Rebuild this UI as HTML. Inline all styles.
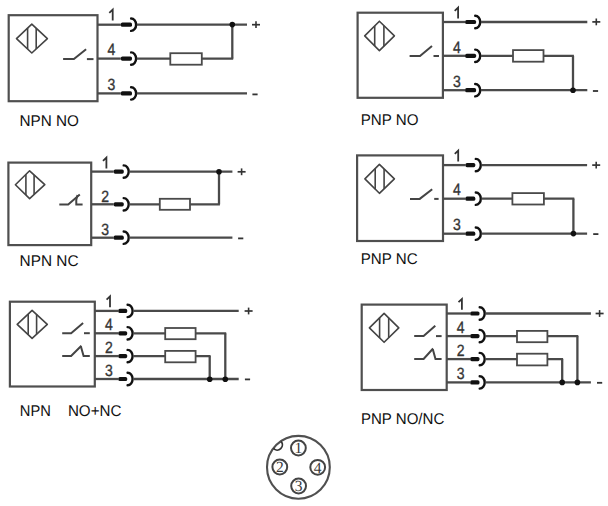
<!DOCTYPE html>
<html><head><meta charset="utf-8"><style>
html,body{margin:0;padding:0;background:#fff;width:608px;height:506px;overflow:hidden}
svg{display:block}
</style></head><body>
<svg width="608" height="506" viewBox="0 0 608 506">
<rect width="608" height="506" fill="#fff"/>
<g>
<rect x="8.7" y="15.2" width="88.8" height="86.0" fill="none" stroke="#4f4f4f" stroke-width="2.2"/>
<polygon points="31.8,24.1 47.4,38.55 31.8,53.0 16.5,38.55" fill="none" stroke="#444" stroke-width="1.6" stroke-linejoin="round"/>
<line x1="27.6" y1="28.02815533980582" x2="27.6" y2="49.071844660194174" stroke="#444" stroke-width="1.6" stroke-linecap="butt"/>
<line x1="36.2" y1="28.215210355987054" x2="36.2" y2="48.88478964401294" stroke="#444" stroke-width="1.6" stroke-linecap="butt"/>
<polyline points="63.1,59.1 73.9,59.1 86.1,49.3" fill="none" stroke="#444" stroke-width="2" stroke-linecap="butt" stroke-linejoin="miter"/>
<line x1="86.9" y1="59.1" x2="93.5" y2="59.1" stroke="#444" stroke-width="2" stroke-linecap="butt"/>
<line x1="97.5" y1="24.7" x2="120.8" y2="24.7" stroke="#4a4a4a" stroke-width="2.3" stroke-linecap="butt"/>
<rect x="120.8" y="22.599999999999998" width="11.20" height="4.2" rx="1.6" fill="#111"/>
<path d="M131.10,18.50 A5.0,6.2 0 0 1 131.10,30.90" fill="none" stroke="#111" stroke-width="2.4" stroke-linecap="round"/>
<line x1="136.8" y1="24.7" x2="247" y2="24.7" stroke="#4a4a4a" stroke-width="2.3" stroke-linecap="butt"/>
<path d="M112.70,20.50 L112.70,9.70 L109.30,12.90" fill="none" stroke="#333" stroke-width="1.8" stroke-linejoin="miter"/>
<line x1="97.5" y1="58.6" x2="120.8" y2="58.6" stroke="#4a4a4a" stroke-width="2.3" stroke-linecap="butt"/>
<rect x="120.8" y="56.5" width="11.20" height="4.2" rx="1.6" fill="#111"/>
<path d="M131.10,52.40 A5.0,6.2 0 0 1 131.10,64.80" fill="none" stroke="#111" stroke-width="2.4" stroke-linecap="round"/>
<line x1="136.8" y1="58.6" x2="233.2" y2="58.6" stroke="#4a4a4a" stroke-width="2.3" stroke-linecap="butt"/>
<text text-rendering="geometricPrecision" transform="translate(111.5,54.7) scale(0.86,1)" font-family="&quot;Liberation Sans&quot;, sans-serif" font-size="16.3" fill="#333" stroke="#333" stroke-width="0.35" text-anchor="middle">4</text>
<line x1="97.5" y1="93.4" x2="120.8" y2="93.4" stroke="#4a4a4a" stroke-width="2.3" stroke-linecap="butt"/>
<rect x="120.8" y="91.30000000000001" width="11.20" height="4.2" rx="1.6" fill="#111"/>
<path d="M131.10,87.20 A5.0,6.2 0 0 1 131.10,99.60" fill="none" stroke="#111" stroke-width="2.4" stroke-linecap="round"/>
<line x1="136.8" y1="93.4" x2="247" y2="93.4" stroke="#4a4a4a" stroke-width="2.3" stroke-linecap="butt"/>
<text text-rendering="geometricPrecision" transform="translate(111.5,89.5) scale(0.86,1)" font-family="&quot;Liberation Sans&quot;, sans-serif" font-size="16.3" fill="#333" stroke="#333" stroke-width="0.35" text-anchor="middle">3</text>
<rect x="170.3" y="53.2" width="31.5" height="11.5" fill="#fff" stroke="#4a4a4a" stroke-width="1.8"/>
<line x1="232.3" y1="24.6" x2="232.3" y2="58.6" stroke="#4a4a4a" stroke-width="2.3" stroke-linecap="butt"/>
<circle cx="232.3" cy="24.6" r="2.8" fill="#111"/>
<line x1="252" y1="24.7" x2="260" y2="24.7" stroke="#333" stroke-width="1.7" stroke-linecap="butt"/>
<line x1="256" y1="21.3" x2="256" y2="28.099999999999998" stroke="#333" stroke-width="1.6" stroke-linecap="butt"/>
<line x1="252.4" y1="94.4" x2="257.6" y2="94.4" stroke="#333" stroke-width="1.8" stroke-linecap="butt"/>
<text text-rendering="geometricPrecision" x="19.6" y="125.5" font-family="&quot;Liberation Sans&quot;, sans-serif" font-size="15.5" fill="#111" text-anchor="start" textLength="59.4" lengthAdjust="spacingAndGlyphs">NPN NO</text>
<rect x="357.6" y="12.7" width="85.29999999999995" height="85.1" fill="none" stroke="#4f4f4f" stroke-width="2.2"/>
<polygon points="379.4,21.200000000000003 394.4,35.900000000000006 379.4,50.6 364.70000000000005,35.900000000000006" fill="none" stroke="#444" stroke-width="1.6" stroke-linejoin="round"/>
<line x1="374.7" y1="25.852525252525258" x2="374.7" y2="45.94747474747476" stroke="#444" stroke-width="1.6" stroke-linecap="butt"/>
<line x1="383.9" y1="25.65454545454547" x2="383.9" y2="46.14545454545454" stroke="#444" stroke-width="1.6" stroke-linecap="butt"/>
<polyline points="409.6,56.0 420,56.0 432,46" fill="none" stroke="#444" stroke-width="2" stroke-linecap="butt" stroke-linejoin="miter"/>
<line x1="433.5" y1="56.0" x2="439" y2="56.0" stroke="#444" stroke-width="2" stroke-linecap="butt"/>
<line x1="442.9" y1="22.0" x2="465.1" y2="22.0" stroke="#4a4a4a" stroke-width="2.3" stroke-linecap="butt"/>
<rect x="465.1" y="19.9" width="11.00" height="4.2" rx="1.6" fill="#111"/>
<path d="M475.20,15.80 A5.0,6.2 0 0 1 475.20,28.20" fill="none" stroke="#111" stroke-width="2.4" stroke-linecap="round"/>
<line x1="480.9" y1="22.0" x2="587.3" y2="22.0" stroke="#4a4a4a" stroke-width="2.3" stroke-linecap="butt"/>
<path d="M458.10,18.50 L458.10,7.70 L454.70,10.90" fill="none" stroke="#333" stroke-width="1.8" stroke-linejoin="miter"/>
<line x1="442.9" y1="55.8" x2="465.1" y2="55.8" stroke="#4a4a4a" stroke-width="2.3" stroke-linecap="butt"/>
<rect x="465.1" y="53.699999999999996" width="11.00" height="4.2" rx="1.6" fill="#111"/>
<path d="M475.20,49.60 A5.0,6.2 0 0 1 475.20,62.00" fill="none" stroke="#111" stroke-width="2.4" stroke-linecap="round"/>
<line x1="480.9" y1="55.8" x2="573.9" y2="55.8" stroke="#4a4a4a" stroke-width="2.3" stroke-linecap="butt"/>
<text text-rendering="geometricPrecision" transform="translate(456.9,52.599999999999994) scale(0.86,1)" font-family="&quot;Liberation Sans&quot;, sans-serif" font-size="16.3" fill="#333" stroke="#333" stroke-width="0.35" text-anchor="middle">4</text>
<line x1="442.9" y1="90.2" x2="465.1" y2="90.2" stroke="#4a4a4a" stroke-width="2.3" stroke-linecap="butt"/>
<rect x="465.1" y="88.10000000000001" width="11.00" height="4.2" rx="1.6" fill="#111"/>
<path d="M475.20,84.00 A5.0,6.2 0 0 1 475.20,96.40" fill="none" stroke="#111" stroke-width="2.4" stroke-linecap="round"/>
<line x1="480.9" y1="90.2" x2="587.3" y2="90.2" stroke="#4a4a4a" stroke-width="2.3" stroke-linecap="butt"/>
<text text-rendering="geometricPrecision" transform="translate(456.9,87.0) scale(0.86,1)" font-family="&quot;Liberation Sans&quot;, sans-serif" font-size="16.3" fill="#333" stroke="#333" stroke-width="0.35" text-anchor="middle">3</text>
<rect x="513" y="50.1" width="30.5" height="11.600000000000001" fill="#fff" stroke="#4a4a4a" stroke-width="1.8"/>
<line x1="573" y1="55.8" x2="573" y2="90.2" stroke="#4a4a4a" stroke-width="2.3" stroke-linecap="butt"/>
<circle cx="573" cy="90.3" r="2.8" fill="#111"/>
<line x1="592.3" y1="21.9" x2="600.3" y2="21.9" stroke="#333" stroke-width="1.7" stroke-linecap="butt"/>
<line x1="596.3" y1="18.5" x2="596.3" y2="25.299999999999997" stroke="#333" stroke-width="1.6" stroke-linecap="butt"/>
<line x1="592.9" y1="91.0" x2="598.1" y2="91.0" stroke="#333" stroke-width="1.8" stroke-linecap="butt"/>
<text text-rendering="geometricPrecision" x="360.70000000000005" y="124.5" font-family="&quot;Liberation Sans&quot;, sans-serif" font-size="15.5" fill="#111" text-anchor="start" textLength="57.800000000000004" lengthAdjust="spacingAndGlyphs">PNP NO</text>
<rect x="8.4" y="162.6" width="82.8" height="82.5" fill="none" stroke="#4f4f4f" stroke-width="2.2"/>
<polygon points="29.6,170.79999999999998 44.8,184.7 29.6,198.6 15.4,184.7" fill="none" stroke="#444" stroke-width="1.6" stroke-linejoin="round"/>
<line x1="25.9" y1="174.2986394557823" x2="25.9" y2="195.10136054421767" stroke="#444" stroke-width="1.6" stroke-linecap="butt"/>
<line x1="34.1" y1="175.0551020408163" x2="34.1" y2="194.34489795918367" stroke="#444" stroke-width="1.6" stroke-linecap="butt"/>
<polyline points="59.3,204.5 68.2,204.5 79.8,194.5" fill="none" stroke="#444" stroke-width="2" stroke-linecap="butt" stroke-linejoin="miter"/>
<path d="M77.5,195.0 Q75.7,200.05 76.3,204.5 L82.6,204.5" fill="none" stroke="#444" stroke-width="2"/>
<line x1="91.2" y1="171.6" x2="113.6" y2="171.6" stroke="#4a4a4a" stroke-width="2.3" stroke-linecap="butt"/>
<rect x="113.6" y="169.5" width="10.20" height="4.2" rx="1.6" fill="#111"/>
<path d="M123.70,165.40 A5.0,6.2 0 0 1 123.70,177.80" fill="none" stroke="#111" stroke-width="2.4" stroke-linecap="round"/>
<line x1="129.4" y1="171.6" x2="232.4" y2="171.6" stroke="#4a4a4a" stroke-width="2.3" stroke-linecap="butt"/>
<path d="M106.40,168.50 L106.40,157.70 L103.00,160.90" fill="none" stroke="#333" stroke-width="1.8" stroke-linejoin="miter"/>
<line x1="91.2" y1="204.3" x2="113.6" y2="204.3" stroke="#4a4a4a" stroke-width="2.3" stroke-linecap="butt"/>
<rect x="113.6" y="202.20000000000002" width="10.20" height="4.2" rx="1.6" fill="#111"/>
<path d="M123.70,198.10 A5.0,6.2 0 0 1 123.70,210.50" fill="none" stroke="#111" stroke-width="2.4" stroke-linecap="round"/>
<line x1="129.4" y1="204.3" x2="219.9" y2="204.3" stroke="#4a4a4a" stroke-width="2.3" stroke-linecap="butt"/>
<text text-rendering="geometricPrecision" transform="translate(105.2,201.5) scale(0.86,1)" font-family="&quot;Liberation Sans&quot;, sans-serif" font-size="16.3" fill="#333" stroke="#333" stroke-width="0.35" text-anchor="middle">2</text>
<line x1="91.2" y1="237.7" x2="113.6" y2="237.7" stroke="#4a4a4a" stroke-width="2.3" stroke-linecap="butt"/>
<rect x="113.6" y="235.6" width="10.20" height="4.2" rx="1.6" fill="#111"/>
<path d="M123.70,231.50 A5.0,6.2 0 0 1 123.70,243.90" fill="none" stroke="#111" stroke-width="2.4" stroke-linecap="round"/>
<line x1="129.4" y1="237.7" x2="232.4" y2="237.7" stroke="#4a4a4a" stroke-width="2.3" stroke-linecap="butt"/>
<text text-rendering="geometricPrecision" transform="translate(105.2,234.89999999999998) scale(0.86,1)" font-family="&quot;Liberation Sans&quot;, sans-serif" font-size="16.3" fill="#333" stroke="#333" stroke-width="0.35" text-anchor="middle">3</text>
<rect x="159.8" y="198.8" width="30.19999999999999" height="11.0" fill="#fff" stroke="#4a4a4a" stroke-width="1.8"/>
<line x1="219" y1="171.7" x2="219" y2="204.3" stroke="#4a4a4a" stroke-width="2.3" stroke-linecap="butt"/>
<circle cx="219" cy="171.7" r="2.8" fill="#111"/>
<line x1="237.6" y1="171.8" x2="245.6" y2="171.8" stroke="#333" stroke-width="1.7" stroke-linecap="butt"/>
<line x1="241.6" y1="168.4" x2="241.6" y2="175.20000000000002" stroke="#333" stroke-width="1.6" stroke-linecap="butt"/>
<line x1="238.1" y1="238.4" x2="243.29999999999998" y2="238.4" stroke="#333" stroke-width="1.8" stroke-linecap="butt"/>
<text text-rendering="geometricPrecision" x="19.6" y="265.5" font-family="&quot;Liberation Sans&quot;, sans-serif" font-size="15.5" fill="#111" text-anchor="start" textLength="58.9" lengthAdjust="spacingAndGlyphs">NPN NC</text>
<rect x="357.1" y="155.4" width="85.89999999999998" height="85.6" fill="none" stroke="#4f4f4f" stroke-width="2.2"/>
<polygon points="379.4,164.4 394.4,178.85000000000002 379.4,193.3 364.90000000000003,178.85000000000002" fill="none" stroke="#444" stroke-width="1.6" stroke-linejoin="round"/>
<line x1="375.2" y1="168.51457627118646" x2="375.2" y2="189.1854237288136" stroke="#444" stroke-width="1.6" stroke-linecap="butt"/>
<line x1="384.1" y1="169.00440677966108" x2="384.1" y2="188.69559322033896" stroke="#444" stroke-width="1.6" stroke-linecap="butt"/>
<polyline points="410,198.9 419.7,198.9 432.2,189.2" fill="none" stroke="#444" stroke-width="2" stroke-linecap="butt" stroke-linejoin="miter"/>
<line x1="434.2" y1="198.9" x2="438.6" y2="198.9" stroke="#444" stroke-width="2" stroke-linecap="butt"/>
<line x1="443" y1="165.1" x2="465.4" y2="165.1" stroke="#4a4a4a" stroke-width="2.3" stroke-linecap="butt"/>
<rect x="465.4" y="163.0" width="9.90" height="4.2" rx="1.6" fill="#111"/>
<path d="M475.80,158.90 A5.0,6.2 0 0 1 475.80,171.30" fill="none" stroke="#111" stroke-width="2.4" stroke-linecap="round"/>
<line x1="481.5" y1="165.1" x2="587.1" y2="165.1" stroke="#4a4a4a" stroke-width="2.3" stroke-linecap="butt"/>
<path d="M458.20,161.40 L458.20,150.60 L454.80,153.80" fill="none" stroke="#333" stroke-width="1.8" stroke-linejoin="miter"/>
<line x1="443" y1="198.7" x2="465.4" y2="198.7" stroke="#4a4a4a" stroke-width="2.3" stroke-linecap="butt"/>
<rect x="465.4" y="196.6" width="9.90" height="4.2" rx="1.6" fill="#111"/>
<path d="M475.80,192.50 A5.0,6.2 0 0 1 475.80,204.90" fill="none" stroke="#111" stroke-width="2.4" stroke-linecap="round"/>
<line x1="481.5" y1="198.7" x2="574.3" y2="198.7" stroke="#4a4a4a" stroke-width="2.3" stroke-linecap="butt"/>
<text text-rendering="geometricPrecision" transform="translate(457,195.29999999999998) scale(0.86,1)" font-family="&quot;Liberation Sans&quot;, sans-serif" font-size="16.3" fill="#333" stroke="#333" stroke-width="0.35" text-anchor="middle">4</text>
<line x1="443" y1="233.7" x2="465.4" y2="233.7" stroke="#4a4a4a" stroke-width="2.3" stroke-linecap="butt"/>
<rect x="465.4" y="231.6" width="9.90" height="4.2" rx="1.6" fill="#111"/>
<path d="M475.80,227.50 A5.0,6.2 0 0 1 475.80,239.90" fill="none" stroke="#111" stroke-width="2.4" stroke-linecap="round"/>
<line x1="481.5" y1="233.7" x2="587.1" y2="233.7" stroke="#4a4a4a" stroke-width="2.3" stroke-linecap="butt"/>
<text text-rendering="geometricPrecision" transform="translate(457,230.29999999999998) scale(0.86,1)" font-family="&quot;Liberation Sans&quot;, sans-serif" font-size="16.3" fill="#333" stroke="#333" stroke-width="0.35" text-anchor="middle">3</text>
<rect x="512.4" y="193.1" width="31.5" height="11.400000000000006" fill="#fff" stroke="#4a4a4a" stroke-width="1.8"/>
<line x1="573.4" y1="198.6" x2="573.4" y2="233.6" stroke="#4a4a4a" stroke-width="2.3" stroke-linecap="butt"/>
<circle cx="573.4" cy="233.6" r="2.8" fill="#111"/>
<line x1="592.2" y1="165.1" x2="600.2" y2="165.1" stroke="#333" stroke-width="1.7" stroke-linecap="butt"/>
<line x1="596.2" y1="161.7" x2="596.2" y2="168.5" stroke="#333" stroke-width="1.6" stroke-linecap="butt"/>
<line x1="593.1999999999999" y1="234.1" x2="598.4" y2="234.1" stroke="#333" stroke-width="1.8" stroke-linecap="butt"/>
<text text-rendering="geometricPrecision" x="360.70000000000005" y="263.5" font-family="&quot;Liberation Sans&quot;, sans-serif" font-size="15.5" fill="#111" text-anchor="start" textLength="56.9" lengthAdjust="spacingAndGlyphs">PNP NC</text>
<rect x="9.9" y="301.7" width="84.89999999999999" height="84.80000000000001" fill="none" stroke="#4f4f4f" stroke-width="2.2"/>
<polygon points="32.1,310.40000000000003 47.3,324.35 32.1,338.29999999999995 17.200000000000003,324.35" fill="none" stroke="#444" stroke-width="1.6" stroke-linejoin="round"/>
<line x1="28.2" y1="314.014950166113" x2="28.2" y2="334.68504983388704" stroke="#444" stroke-width="1.6" stroke-linecap="butt"/>
<line x1="36.6" y1="314.571096345515" x2="36.6" y2="334.12890365448504" stroke="#444" stroke-width="1.6" stroke-linecap="butt"/>
<polyline points="62.2,333.2 71.1,333.2 83.1,323.1" fill="none" stroke="#444" stroke-width="2" stroke-linecap="butt" stroke-linejoin="miter"/>
<line x1="84" y1="333.2" x2="89.8" y2="333.2" stroke="#444" stroke-width="2" stroke-linecap="butt"/>
<polyline points="62.2,356.0 71.1,356.0 81.4,345.8" fill="none" stroke="#444" stroke-width="2" stroke-linecap="butt" stroke-linejoin="miter"/>
<polyline points="80.9,346.5 83.6,356.0 89.8,356.0" fill="none" stroke="#444" stroke-width="2" stroke-linecap="butt" stroke-linejoin="miter"/>
<line x1="94.8" y1="310.9" x2="118.3" y2="310.9" stroke="#4a4a4a" stroke-width="2.3" stroke-linecap="butt"/>
<rect x="118.3" y="308.79999999999995" width="8.90" height="4.2" rx="1.6" fill="#111"/>
<path d="M127.60,304.70 A5.0,6.2 0 0 1 127.60,317.10" fill="none" stroke="#111" stroke-width="2.4" stroke-linecap="round"/>
<line x1="133.3" y1="310.9" x2="238.7" y2="310.9" stroke="#4a4a4a" stroke-width="2.3" stroke-linecap="butt"/>
<path d="M110.00,307.20 L110.00,296.40 L106.60,299.60" fill="none" stroke="#333" stroke-width="1.8" stroke-linejoin="miter"/>
<line x1="94.8" y1="333.3" x2="118.3" y2="333.3" stroke="#4a4a4a" stroke-width="2.3" stroke-linecap="butt"/>
<rect x="118.3" y="331.2" width="8.90" height="4.2" rx="1.6" fill="#111"/>
<path d="M127.60,327.10 A5.0,6.2 0 0 1 127.60,339.50" fill="none" stroke="#111" stroke-width="2.4" stroke-linecap="round"/>
<line x1="133.3" y1="333.3" x2="226.2" y2="333.3" stroke="#4a4a4a" stroke-width="2.3" stroke-linecap="butt"/>
<text text-rendering="geometricPrecision" transform="translate(108.8,329.90000000000003) scale(0.86,1)" font-family="&quot;Liberation Sans&quot;, sans-serif" font-size="16.3" fill="#333" stroke="#333" stroke-width="0.35" text-anchor="middle">4</text>
<line x1="94.8" y1="356.1" x2="118.3" y2="356.1" stroke="#4a4a4a" stroke-width="2.3" stroke-linecap="butt"/>
<rect x="118.3" y="354.0" width="8.90" height="4.2" rx="1.6" fill="#111"/>
<path d="M127.60,349.90 A5.0,6.2 0 0 1 127.60,362.30" fill="none" stroke="#111" stroke-width="2.4" stroke-linecap="round"/>
<line x1="133.3" y1="356.1" x2="210.6" y2="356.1" stroke="#4a4a4a" stroke-width="2.3" stroke-linecap="butt"/>
<text text-rendering="geometricPrecision" transform="translate(108.8,352.70000000000005) scale(0.86,1)" font-family="&quot;Liberation Sans&quot;, sans-serif" font-size="16.3" fill="#333" stroke="#333" stroke-width="0.35" text-anchor="middle">2</text>
<line x1="94.8" y1="379.0" x2="118.3" y2="379.0" stroke="#4a4a4a" stroke-width="2.3" stroke-linecap="butt"/>
<rect x="118.3" y="376.9" width="8.90" height="4.2" rx="1.6" fill="#111"/>
<path d="M127.60,372.80 A5.0,6.2 0 0 1 127.60,385.20" fill="none" stroke="#111" stroke-width="2.4" stroke-linecap="round"/>
<line x1="133.3" y1="379.0" x2="238.7" y2="379.0" stroke="#4a4a4a" stroke-width="2.3" stroke-linecap="butt"/>
<text text-rendering="geometricPrecision" transform="translate(108.8,375.6) scale(0.86,1)" font-family="&quot;Liberation Sans&quot;, sans-serif" font-size="16.3" fill="#333" stroke="#333" stroke-width="0.35" text-anchor="middle">3</text>
<rect x="165.2" y="328" width="30.400000000000006" height="11.199999999999989" fill="#fff" stroke="#4a4a4a" stroke-width="1.8"/>
<rect x="165.2" y="350.9" width="30.400000000000006" height="11.400000000000034" fill="#fff" stroke="#4a4a4a" stroke-width="1.8"/>
<line x1="225.3" y1="333.3" x2="225.3" y2="379.2" stroke="#4a4a4a" stroke-width="2.3" stroke-linecap="butt"/>
<line x1="209.7" y1="356.1" x2="209.7" y2="379.2" stroke="#4a4a4a" stroke-width="2.3" stroke-linecap="butt"/>
<circle cx="225.3" cy="379.2" r="2.8" fill="#111"/>
<circle cx="209.7" cy="379.2" r="2.8" fill="#111"/>
<line x1="244.6" y1="311" x2="252.6" y2="311" stroke="#333" stroke-width="1.7" stroke-linecap="butt"/>
<line x1="248.6" y1="307.6" x2="248.6" y2="314.4" stroke="#333" stroke-width="1.6" stroke-linecap="butt"/>
<line x1="244.9" y1="379.4" x2="250.1" y2="379.4" stroke="#333" stroke-width="1.8" stroke-linecap="butt"/>
<text text-rendering="geometricPrecision" x="19.8" y="415.5" font-family="&quot;Liberation Sans&quot;, sans-serif" font-size="15.5" fill="#111" text-anchor="start" textLength="31.0" lengthAdjust="spacingAndGlyphs">NPN</text>
<text text-rendering="geometricPrecision" x="67.89999999999999" y="415.5" font-family="&quot;Liberation Sans&quot;, sans-serif" font-size="15.5" fill="#111" text-anchor="start" textLength="53.5" lengthAdjust="spacingAndGlyphs">NO+NC</text>
<rect x="361.7" y="304.6" width="85.0" height="85.39999999999998" fill="none" stroke="#4f4f4f" stroke-width="2.2"/>
<polygon points="384.1,313.40000000000003 398.79999999999995,327.85 384.1,342.29999999999995 369.40000000000003,327.85" fill="none" stroke="#444" stroke-width="1.6" stroke-linejoin="round"/>
<line x1="379.6" y1="317.82346938775515" x2="379.6" y2="337.8765306122449" stroke="#444" stroke-width="1.6" stroke-linecap="butt"/>
<line x1="388.7" y1="317.921768707483" x2="388.7" y2="337.77823129251703" stroke="#444" stroke-width="1.6" stroke-linecap="butt"/>
<polyline points="414.2,336.1 423.6,336.1 435.3,325.8" fill="none" stroke="#444" stroke-width="2" stroke-linecap="butt" stroke-linejoin="miter"/>
<line x1="436" y1="336.1" x2="441.6" y2="336.1" stroke="#444" stroke-width="2" stroke-linecap="butt"/>
<polyline points="414.2,359.0 423.6,359.0 433.1,348.5" fill="none" stroke="#444" stroke-width="2" stroke-linecap="butt" stroke-linejoin="miter"/>
<polyline points="432.8,349.2 435.5,359.0 441.6,359.0" fill="none" stroke="#444" stroke-width="2" stroke-linecap="butt" stroke-linejoin="miter"/>
<line x1="446.7" y1="313.5" x2="470.2" y2="313.5" stroke="#4a4a4a" stroke-width="2.3" stroke-linecap="butt"/>
<rect x="470.2" y="311.4" width="9.30" height="4.2" rx="1.6" fill="#111"/>
<path d="M479.70,307.30 A5.0,6.2 0 0 1 479.70,319.70" fill="none" stroke="#111" stroke-width="2.4" stroke-linecap="round"/>
<line x1="485.4" y1="313.5" x2="590.9" y2="313.5" stroke="#4a4a4a" stroke-width="2.3" stroke-linecap="butt"/>
<path d="M461.90,309.80 L461.90,299.00 L458.50,302.20" fill="none" stroke="#333" stroke-width="1.8" stroke-linejoin="miter"/>
<line x1="446.7" y1="336.1" x2="470.2" y2="336.1" stroke="#4a4a4a" stroke-width="2.3" stroke-linecap="butt"/>
<rect x="470.2" y="334.0" width="9.30" height="4.2" rx="1.6" fill="#111"/>
<path d="M479.70,329.90 A5.0,6.2 0 0 1 479.70,342.30" fill="none" stroke="#111" stroke-width="2.4" stroke-linecap="round"/>
<line x1="485.4" y1="336.1" x2="578.3" y2="336.1" stroke="#4a4a4a" stroke-width="2.3" stroke-linecap="butt"/>
<text text-rendering="geometricPrecision" transform="translate(460.7,332.70000000000005) scale(0.86,1)" font-family="&quot;Liberation Sans&quot;, sans-serif" font-size="16.3" fill="#333" stroke="#333" stroke-width="0.35" text-anchor="middle">4</text>
<line x1="446.7" y1="359.1" x2="470.2" y2="359.1" stroke="#4a4a4a" stroke-width="2.3" stroke-linecap="butt"/>
<rect x="470.2" y="357.0" width="9.30" height="4.2" rx="1.6" fill="#111"/>
<path d="M479.70,352.90 A5.0,6.2 0 0 1 479.70,365.30" fill="none" stroke="#111" stroke-width="2.4" stroke-linecap="round"/>
<line x1="485.4" y1="359.1" x2="563.1" y2="359.1" stroke="#4a4a4a" stroke-width="2.3" stroke-linecap="butt"/>
<text text-rendering="geometricPrecision" transform="translate(460.7,355.70000000000005) scale(0.86,1)" font-family="&quot;Liberation Sans&quot;, sans-serif" font-size="16.3" fill="#333" stroke="#333" stroke-width="0.35" text-anchor="middle">2</text>
<line x1="446.7" y1="382.4" x2="470.2" y2="382.4" stroke="#4a4a4a" stroke-width="2.3" stroke-linecap="butt"/>
<rect x="470.2" y="380.29999999999995" width="9.30" height="4.2" rx="1.6" fill="#111"/>
<path d="M479.70,376.20 A5.0,6.2 0 0 1 479.70,388.60" fill="none" stroke="#111" stroke-width="2.4" stroke-linecap="round"/>
<line x1="485.4" y1="382.4" x2="590.9" y2="382.4" stroke="#4a4a4a" stroke-width="2.3" stroke-linecap="butt"/>
<text text-rendering="geometricPrecision" transform="translate(460.7,379.0) scale(0.86,1)" font-family="&quot;Liberation Sans&quot;, sans-serif" font-size="16.3" fill="#333" stroke="#333" stroke-width="0.35" text-anchor="middle">3</text>
<rect x="517" y="330.9" width="30.399999999999977" height="11.300000000000011" fill="#fff" stroke="#4a4a4a" stroke-width="1.8"/>
<rect x="517" y="353.7" width="30.399999999999977" height="11.699999999999989" fill="#fff" stroke="#4a4a4a" stroke-width="1.8"/>
<line x1="577.4" y1="336.1" x2="577.4" y2="382.4" stroke="#4a4a4a" stroke-width="2.3" stroke-linecap="butt"/>
<line x1="562.2" y1="359.1" x2="562.2" y2="382.4" stroke="#4a4a4a" stroke-width="2.3" stroke-linecap="butt"/>
<circle cx="577.4" cy="382.4" r="2.8" fill="#111"/>
<circle cx="562.2" cy="382.4" r="2.8" fill="#111"/>
<line x1="595.6" y1="313.5" x2="603.6" y2="313.5" stroke="#333" stroke-width="1.7" stroke-linecap="butt"/>
<line x1="599.6" y1="310.1" x2="599.6" y2="316.9" stroke="#333" stroke-width="1.6" stroke-linecap="butt"/>
<line x1="597.0" y1="382.79999999999995" x2="602.2" y2="382.79999999999995" stroke="#333" stroke-width="1.8" stroke-linecap="butt"/>
<text text-rendering="geometricPrecision" x="360.90000000000003" y="423.5" font-family="&quot;Liberation Sans&quot;, sans-serif" font-size="15.5" fill="#111" text-anchor="start" textLength="83.39999999999999" lengthAdjust="spacingAndGlyphs">PNP NO/NC</text>
<circle cx="298.4" cy="467.3" r="31.4" fill="none" stroke="#505050" stroke-width="2.1"/>
<path d="M280.98,441.33 A5.2,5.2 0 0 1 273.42,448.47" fill="none" stroke="#333" stroke-width="1.8"/>
<circle cx="298.4" cy="448" r="7.4" fill="none" stroke="#444" stroke-width="2"/>
<text text-rendering="geometricPrecision" x="298.4" y="453.4" font-family="&quot;Liberation Serif&quot;, sans-serif" font-size="15.5" fill="#3a3a3a" text-anchor="middle">1</text>
<circle cx="279.8" cy="467" r="7.4" fill="none" stroke="#444" stroke-width="2"/>
<text text-rendering="geometricPrecision" x="279.8" y="472.4" font-family="&quot;Liberation Serif&quot;, sans-serif" font-size="15.5" fill="#3a3a3a" text-anchor="middle">2</text>
<circle cx="317.7" cy="467.3" r="7.4" fill="none" stroke="#444" stroke-width="2"/>
<text text-rendering="geometricPrecision" x="317.7" y="472.7" font-family="&quot;Liberation Serif&quot;, sans-serif" font-size="15.5" fill="#3a3a3a" text-anchor="middle">4</text>
<circle cx="298.6" cy="486" r="7.4" fill="none" stroke="#444" stroke-width="2"/>
<text text-rendering="geometricPrecision" x="298.6" y="491.4" font-family="&quot;Liberation Serif&quot;, sans-serif" font-size="15.5" fill="#3a3a3a" text-anchor="middle">3</text>
</g>
</svg></body></html>
